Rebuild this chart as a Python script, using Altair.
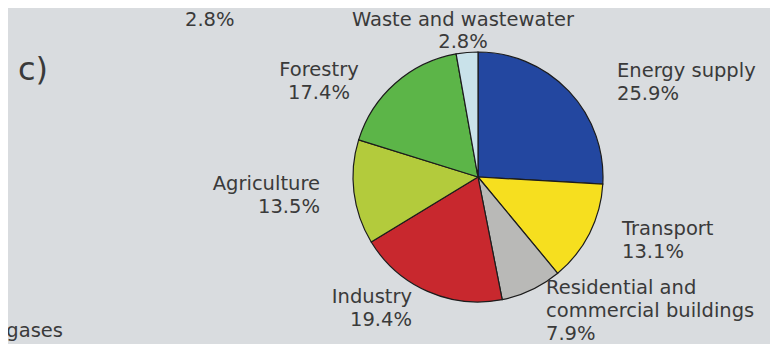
import altair as alt
import pandas as pd

# ---- data ----
sectors = ["Energy supply", "Transport", "Residential and commercial buildings",
           "Industry", "Agriculture", "Forestry", "Waste and wastewater"]
shares = [25.9, 13.1, 7.9, 19.4, 13.5, 17.4, 2.8]
label_names = ["Energy supply", "Transport", "Residential and\ncommercial buildings",
               "Industry", "Agriculture", "Forestry", "Waste and wastewater"]
colors = ["#2347a0", "#f6df1f", "#b9b9b7", "#c8282e", "#b3cb3c", "#5cb548", "#c9e2ea"]

panel_tag = "c)"
cut_labels = ["2.8%", "F-gases"]

df = pd.DataFrame({
    "sector": sectors,
    "share": shares,
    "order": list(range(len(sectors))),
    "label": [f"{n}\n{s}%" for n, s in zip(label_names, shares)],
})

FONT = "DejaVu Sans"
FS = 19.5
TXT = "#3a3a3a"
CX, CY, R = 470, 169, 125

base = alt.Chart(df)

pie = base.mark_arc(outerRadius=R, stroke="#1c1c1c", strokeWidth=1.2).encode(
    theta=alt.Theta("share:Q", stack=True),
    order=alt.Order("order:Q"),
    color=alt.Color("sector:N", scale=alt.Scale(domain=sectors, range=colors), legend=None),
    x=alt.value(CX),
    y=alt.value(CY),
)

# annotation anchors for each sector label (x, y of first baseline, align, line height)
anchors = {
    "Energy supply": (609, 69, "left", 23),
    "Transport": (614, 227, "left", 23),
    "Residential and commercial buildings": (538, 286, "left", 23),
    "Industry": (404, 295, "right", 23),
    "Agriculture": (312, 182, "right", 23),
    "Forestry": (311, 68, "center", 23),
    "Waste and wastewater": (455, 18, "center", 22),
}

layers = [pie]
for s in sectors:
    ax, ay, al, lh = anchors[s]
    layers.append(
        base.transform_filter(alt.datum.sector == s)
        .mark_text(font=FONT, fontSize=FS, color=TXT, align=al, baseline="alphabetic",
                   lineBreak="\n", lineHeight=lh)
        .encode(text="label:N", x=alt.value(ax), y=alt.value(ay))
    )

tag = alt.Chart(pd.DataFrame({"t": [panel_tag]})).mark_text(
    font=FONT, fontSize=32, color=TXT, align="left", baseline="alphabetic"
).encode(text="t:N", x=alt.value(10), y=alt.value(72))

cut1 = alt.Chart(pd.DataFrame({"t": [cut_labels[0]]})).mark_text(
    font=FONT, fontSize=FS, color=TXT, align="left", baseline="alphabetic"
).encode(text="t:N", x=alt.value(177), y=alt.value(18))

cut2 = alt.Chart(pd.DataFrame({"t": [cut_labels[1]]})).mark_text(
    font=FONT, fontSize=FS, color=TXT, align="right", baseline="alphabetic"
).encode(text="t:N", x=alt.value(55), y=alt.value(329))

chart = alt.layer(*layers, tag, cut1, cut2).properties(
    width=762, height=336, padding=0, autosize=alt.AutoSizeParams(type="none"),
    background="#d9dcdf",
).configure_view(stroke=None)

chart.save("out.html", embed_options={"renderer": "svg", "actions": False})
